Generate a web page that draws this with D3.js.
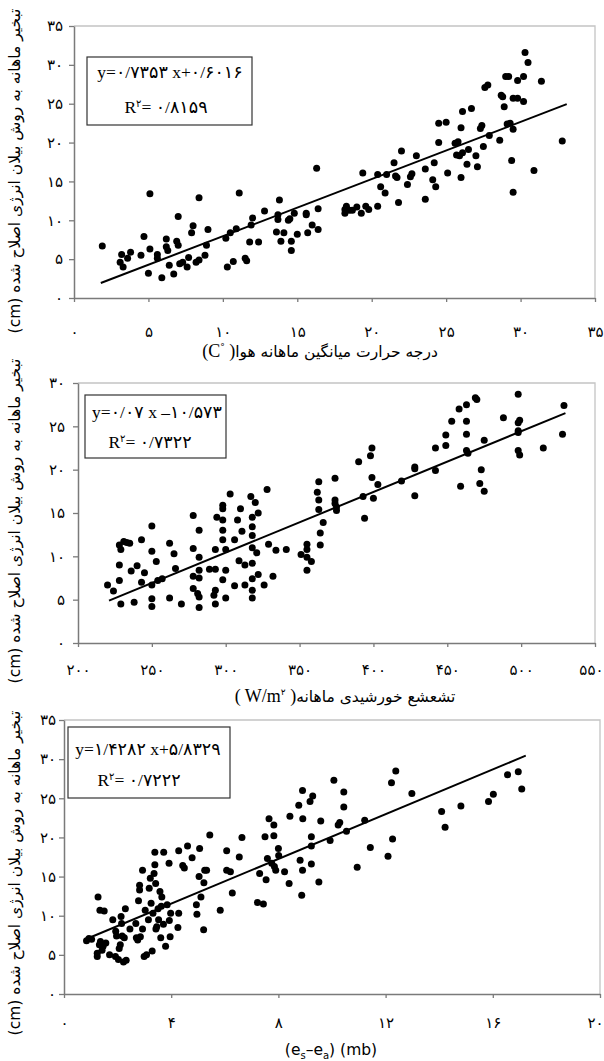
<!DOCTYPE html>
<html>
<head>
<meta charset="utf-8">
<script src="https://cdn.jsdelivr.net/npm/d3@7/dist/d3.min.js"></script>
<style type="text/css">
body { margin: 0; background: #fff; }
text { fill: #000; }
.tick text { font-family: "DejaVu Sans", sans-serif; font-size: 15px; }
.domain { stroke: #7a7a7a; stroke-width: 1.5; }
.tick line { stroke: #7a7a7a; stroke-width: 1.3; }
.frame { stroke: #c4c4c4; stroke-width: 1.3; fill: none; }
.fit { stroke: #000; stroke-width: 2; }
.dot { fill: #000; }
.ytitle, .xtitle { font-family: "DejaVu Sans", sans-serif; font-size: 15.5px; }
.eq { font-family: "Liberation Serif", "DejaVu Sans", serif; font-size: 17.5px; }
.box { fill: #fff; stroke: #333; stroke-width: 1.2; }
</style>
</head>
<body>
<script type="text/javascript">
var width = 604,
    height = 1061;

// panel 1: monthly mean air temperature (C)
var tempX = [1.9,3.1,3.3,3.2,3.6,3.8,4.5,4.7,5.0,5.1,5.1,5.6,5.6,5.9,6.2,6.2,6.3,6.4,6.7,6.9,
    7.0,7.0,7.1,7.3,7.6,7.7,7.9,8.0,8.2,8.4,8.4,8.8,8.9,9.0,10.2,10.3,10.5,10.7,10.9,11.1,
    11.5,11.6,11.8,11.9,12.0,12.4,12.8,13.6,13.8,13.7,13.7,13.9,14.1,14.4,14.5,14.6,14.6,14.8,15.0,15.6,
    15.6,15.7,16.0,16.3,16.4,16.4,18.2,18.2,18.3,18.5,18.7,19.0,19.3,19.4,19.6,19.8,20.4,20.4,20.6,20.9,
    21.0,21.5,21.6,21.7,21.8,22.0,22.4,22.6,22.7,23.0,23.6,23.6,24.1,24.2,24.3,24.5,24.5,25.0,25.1,25.6,
    25.7,25.8,25.9,26.0,26.0,26.1,26.1,26.4,26.5,26.7,27.0,27.1,27.3,27.4,27.5,27.6,27.8,27.9,28.6,28.7,
    28.8,28.9,29.0,29.2,29.1,29.3,29.4,29.5,29.5,29.5,29.8,29.8,30.2,30.2,30.3,30.5,30.9,31.4,32.8];
var tempY = [6.7,4.6,4.0,5.6,5.1,5.9,5.5,7.9,3.2,13.4,6.3,5.6,5.1,2.6,7.6,6.6,6.1,4.2,3.1,7.3,
    6.8,10.5,4.4,4.6,4.0,5.2,8.4,9.3,4.6,12.9,4.9,5.5,6.8,8.8,7.7,4.0,8.4,4.7,8.9,13.5,
    5.1,4.8,7.2,9.4,10.3,7.2,11.2,8.5,12.6,10.1,10.7,7.3,8.4,10.0,10.2,7.3,6.1,10.9,8.2,10.9,
    10.7,8.4,9.4,16.7,11.5,8.8,11.4,10.9,11.8,11.3,11.3,11.7,10.9,16.1,11.8,11.4,11.8,15.9,14.3,13.5,
    15.9,17.4,15.7,15.5,12.3,18.9,14.6,15.6,16.0,18.3,12.7,16.6,15.2,17.4,14.3,20.0,22.5,22.6,16.1,19.9,
    18.4,20.1,18.3,21.9,15.5,18.7,24.0,17.2,19.1,24.4,18.3,16.9,21.8,22.2,19.5,27.1,27.4,20.9,20.3,26.1,
    25.9,24.6,28.5,28.5,22.4,22.5,17.7,21.7,13.6,25.7,25.7,28.0,28.5,25.3,31.6,30.3,16.4,27.9,20.2];

// panel 2: monthly solar radiation (W/m2)
var radX = [220,224,228,228,229,228,229,231,233,235,236,238,240,243,243,245,250,250,250,250,
    250,253,254,257,262,262,265,266,270,278,278,278,278,282,282,282,282,281,282,282,
    289,292,293,293,293,293,294,298,298,298,298,298,298,300,300,300,303,306,306,308,
    309,310,311,313,313,317,318,318,318,318,318,318,318,318,320,321,322,322,326,328,
    329,332,334,341,351,355,355,355,355,358,362,363,363,363,364,364,366,374,374,374,
    375,375,390,393,394,398,399,399,400,403,419,428,428,428,442,442,449,449,453,458,
    459,463,463,463,463,464,469,470,472,473,475,475,488,498,498,498,499,498,498,499,
    515,528,529];
var radY = [6.7,6.0,7.2,9.0,4.5,11.3,10.8,11.7,11.6,11.5,8.3,4.7,8.9,11.9,7.0,8.1,13.5,10.6,6.7,5.1,
    4.2,9.4,7.2,7.4,11.5,5.2,10.3,8.6,4.5,14.7,10.9,7.7,6.3,13.0,9.9,8.4,7.5,5.7,5.3,4.1,
    8.5,5.5,8.5,10.8,6.1,4.5,14.5,15.9,15.5,14.2,13.0,11.9,7.3,8.4,10.8,5.2,17.2,11.9,6.6,14.2,
    9.5,15.5,12.9,9.0,6.7,16.9,14.5,13.4,12.4,11.0,9.2,7.4,6.1,5.2,16.2,10.4,15.0,7.9,6.7,17.7,
    11.4,7.7,10.7,10.8,10.2,11.4,10.8,9.9,8.4,9.4,17.4,18.6,16.5,15.4,12.7,11.3,13.9,19.0,16.5,16.1,
    15.7,15.3,20.9,16.9,14.4,21.6,22.5,19.1,16.7,18.3,18.7,20.3,20.1,17.0,22.5,19.9,24.0,22.8,25.6,27.0,
    18.1,27.5,25.6,24.1,22.2,21.9,28.3,28.1,18.4,20.0,23.4,17.5,26.0,28.7,25.4,24.5,25.7,24.3,22.2,21.7,
    22.5,24.1,27.4];

// panel 3: vapour pressure deficit es-ea (mb)
var vpdX = [0.84,0.93,1.03,1.24,1.24,1.27,1.32,1.36,1.42,1.46,1.34,1.50,1.56,1.70,1.82,1.92,1.93,1.96,2.03,2.06,
    2.10,2.13,2.15,2.17,2.22,2.25,2.29,2.32,2.46,2.68,2.70,2.75,2.78,2.82,2.82,2.85,2.93,2.93,2.99,3.03,
    3.08,3.15,3.18,3.22,3.25,3.29,3.32,3.36,3.39,3.39,3.42,3.43,3.46,3.51,3.53,3.58,3.63,3.65,3.61,3.71,
    3.72,3.79,3.85,3.92,3.93,3.96,3.98,4.25,4.28,4.28,4.43,4.49,4.61,4.78,4.94,4.96,5.04,5.06,5.11,5.21,
    5.22,5.25,5.32,5.44,5.83,6.07,6.07,6.21,6.28,6.54,6.64,7.30,7.22,7.44,7.50,7.54,7.59,7.65,7.75,7.83,
    7.83,7.85,7.90,8.00,8.01,8.23,8.40,8.43,8.76,8.81,8.87,8.90,8.91,8.90,9.18,9.23,9.23,9.23,9.28,9.51,
    9.58,9.93,10.07,10.23,10.29,10.44,10.44,10.54,10.94,11.22,11.43,12.09,12.22,12.26,12.38,12.98,14.09,14.22,14.81,15.84,
    16.02,16.55,16.95,17.08];
var vpdY = [6.8,7.1,7.0,5.2,4.8,12.4,6.3,6.7,5.6,6.1,10.7,10.6,6.5,5.0,9.5,4.8,8.0,7.4,4.4,5.8,
    6.3,9.9,9.0,7.4,4.1,7.2,10.9,4.3,8.3,9.0,7.2,6.9,11.9,13.3,13.9,7.3,8.3,15.8,4.8,10.7,
    5.0,9.5,13.5,14.8,11.6,5.5,10.3,15.4,16.5,18.1,14.1,8.3,8.6,10.9,9.5,13.1,11.2,12.4,7.2,8.9,
    18.1,6.1,11.4,16.7,9.4,7.3,10.3,8.5,18.3,10.3,16.4,16.1,18.9,17.4,11.4,10.2,15.0,18.6,12.4,8.2,
    14.2,15.8,15.8,20.3,10.7,18.3,15.8,15.6,12.9,17.5,20.0,15.4,11.7,11.5,20.1,14.6,17.3,22.4,16.7,21.6,
    20.2,16.3,15.8,18.6,17.7,15.6,14.1,22.7,24.1,17.1,12.6,15.8,22.4,26.0,24.6,20.1,18.9,16.6,25.3,14.3,
    22.1,19.6,27.3,21.6,21.9,23.9,25.8,20.8,16.2,22.2,18.7,17.6,27.0,19.8,28.5,25.6,23.3,21.3,24.0,24.6,
    25.5,28.0,28.4,26.2];

// tick values
var ticks1X = [0,5,10,15,20,25,30,35],  ticks1Y = [0,5,10,15,20,25,30,35];
var ticks2X = [200,250,300,350,400,450,500,550], ticks2Y = [0,5,10,15,20,25,30];
var ticks3X = [0,4,8,12,16,20], ticks3Y = [0,5,10,15,20,25,30,35];

// regression lines: slope, intercept, x range
var fit1 = [0.7353, 0.6016], fitRange1 = [1.8, 33.1];
var fit2 = [0.07, -10.573],  fitRange2 = [221, 530];
var fit3 = [1.4282, 5.8329], fitRange3 = [0.97, 17.23];

// equation labels
var eq1 = ['y=۰/۷۳۵۳ x+۰/۶۰۱۶', '= ۰/۸۱۵۹'];
var eq2 = ['y=۰/۰۷ x –۱۰/۵۷۳', '= ۰/۷۳۲۲'];
var eq3 = ['y=۱/۴۲۸۲ x+۵/۸۳۲۹', '= ۰/۷۲۲۲'];

var yTitle = 'تبخیر ماهانه به روش بیلان انرژی اصلاح شده (cm)';

var faDigits = '۰۱۲۳۴۵۶۷۸۹';
function fa(n){ return String(n).replace(/[0-9]/g, function(c){ return faDigits[+c]; }); }

var svg = d3.select('body')
    .append('svg')
        .attr('width', width)
        .attr('height', height);

svg.append('rect').attr('width', width).attr('height', height).attr('fill', '#fff');

function panel(p){
    var x = d3.scaleLinear().domain(p.xDomain).range([p.left, p.right]);
    var y = d3.scaleLinear().domain(p.yDomain).range([p.bottom, p.top]);
    var g = svg.append('g');

    // light frame on top and right
    g.append('path').attr('class', 'frame')
        .attr('d', 'M' + p.left + ',' + p.top + 'H' + p.right + 'V' + p.bottom);

    g.append('g')
        .attr('transform', 'translate(' + p.left + ',0)')
        .call(d3.axisLeft(y).tickValues(p.yTicks).tickFormat(fa)
            .tickSizeInner(5).tickSizeOuter(0).tickPadding(p.yPad));

    var xa = g.append('g')
        .attr('transform', 'translate(0,' + p.bottom + ')')
        .call(d3.axisBottom(x).tickValues(p.xTicks).tickFormat(fa)
            .tickSizeInner(4).tickSizeOuter(0).tickPadding(p.xPad));

    // last label sits against the window edge
    xa.selectAll('.tick:last-of-type text')
        .attr('text-anchor', 'end')
        .attr('x', width - p.right - 1);

    g.selectAll('.tick text').attr('fill', '#000');

    g.selectAll('circle.dot')
        .data(d3.zip(p.xs, p.ys))
        .enter()
        .append('circle')
            .attr('class', 'dot')
            .attr('cx', function(d){ return x(d[0]); })
            .attr('cy', function(d){ return y(d[1]); })
            .attr('r', 3.5);

    g.append('line').attr('class', 'fit')
        .attr('x1', x(p.fitRange[0])).attr('y1', y(p.fit[0] * p.fitRange[0] + p.fit[1]))
        .attr('x2', x(p.fitRange[1])).attr('y2', y(p.fit[0] * p.fitRange[1] + p.fit[1]));

    // equation box
    var b = p.box;
    g.append('rect').attr('class', 'box')
        .attr('x', b[0]).attr('y', b[1]).attr('width', b[2] - b[0]).attr('height', b[3] - b[1]);
    g.append('text').attr('class', 'eq')
        .attr('x', p.eqPos[0]).attr('y', p.eqPos[1])
        .attr('text-anchor', 'middle')
        .text(p.eq[0]);
    var r = g.append('text').attr('class', 'eq')
        .attr('x', p.rPos[0]).attr('y', p.rPos[1])
        .attr('text-anchor', 'middle');
    r.append('tspan').text('R');
    r.append('tspan').attr('font-size', '10px').attr('dy', -6).text('۲');
    r.append('tspan').attr('dy', 6).text(p.eq[1]);

    // y title, reads bottom to top
    g.append('text').attr('class', 'ytitle')
        .attr('transform', 'translate(' + p.yTitlePos[0] + ',' + p.yTitlePos[1] + ') rotate(-90)')
        .attr('text-anchor', 'middle')
        .attr('direction', 'rtl')
        .attr('dy', '0.35em')
        .text(yTitle);

    var xt = g.append('text').attr('class', 'xtitle')
        .attr('x', p.xTitlePos[0]).attr('y', p.xTitlePos[1])
        .attr('text-anchor', 'middle')
        .attr('dy', '0.35em');
    p.xTitle(xt);
}

panel({
    xs: tempX, ys: tempY, xDomain: [0, 35], yDomain: [0, 35],
    xTicks: ticks1X, yTicks: ticks1Y,
    left: 74, right: 595, top: 26, bottom: 298, yPad: 6, xPad: 24,
    fit: fit1, fitRange: fitRange1, eq: eq1,
    box: [87, 57, 252, 125], eqPos: [170, 78], rPos: [166, 113],
    yTitlePos: [15, 171], xTitlePos: [320, 352],
    xTitle: function(t){
        t.append('tspan').attr('font-family', 'Liberation Serif').attr('font-size', '18px').text('(C');
        t.append('tspan').attr('font-size', '9px').attr('dy', -7).text('°');
        t.append('tspan').attr('font-family', 'Liberation Serif').attr('font-size', '18px').attr('dy', 7).text(' )');
        t.append('tspan').text('درجه حرارت میانگین ماهانه هوا');
    }
});

panel({
    xs: radX, ys: radY, xDomain: [200, 550], yDomain: [0, 30],
    xTicks: ticks2X, yTicks: ticks2Y,
    left: 78, right: 595, top: 383, bottom: 643, yPad: 8, xPad: 17,
    fit: fit2, fitRange: fitRange2, eq: eq2,
    box: [85, 395, 226, 458], eqPos: [157, 418], rPos: [150, 448],
    yTitlePos: [15, 521], xTitlePos: [345, 697],
    xTitle: function(t){
        t.append('tspan').attr('font-family', 'Liberation Serif').attr('font-size', '18px').text('( W/m');
        t.append('tspan').attr('font-size', '9px').attr('dy', -7).text('۲');
        t.append('tspan').attr('font-family', 'Liberation Serif').attr('font-size', '18px').attr('dy', 7).text(' )');
        t.append('tspan').text('تشعشع خورشیدی ماهانه');
    }
});

panel({
    xs: vpdX, ys: vpdY, xDomain: [0, 20], yDomain: [0, 35],
    xTicks: ticks3X, yTicks: ticks3Y,
    left: 64, right: 600, top: 720, bottom: 994, yPad: 3, xPad: 19,
    fit: fit3, fitRange: fitRange3, eq: eq3,
    box: [68, 727, 230, 798], eqPos: [148, 755], rPos: [139, 786],
    yTitlePos: [15, 873], xTitlePos: [331, 1050],
    xTitle: function(t){
        t.attr('font-family', 'Liberation Serif').attr('font-size', '18px');
        t.append('tspan').text('(e');
        t.append('tspan').attr('font-size', '10px').attr('dy', 4).text('s');
        t.append('tspan').attr('dy', -4).text('–e');
        t.append('tspan').attr('font-size', '10px').attr('dy', 4).text('a');
        t.append('tspan').attr('dy', -4).text(') (mb)');
    }
});
</script>
</body>
</html>
